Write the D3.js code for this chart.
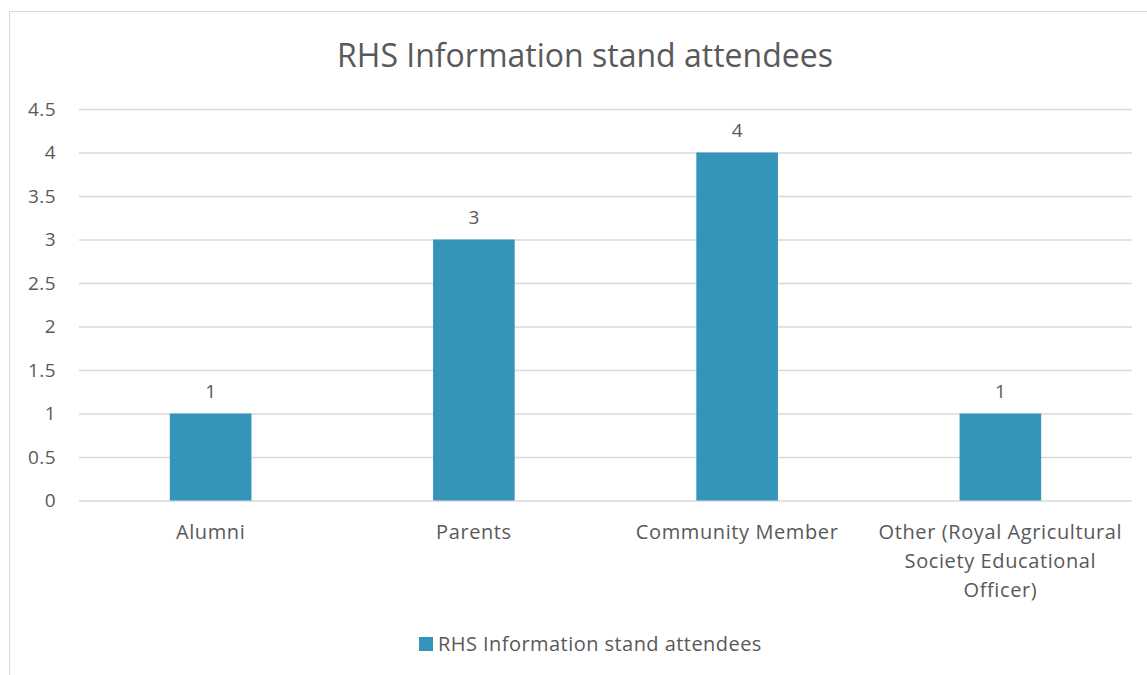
<!DOCTYPE html>
<html><head><meta charset="utf-8">
<script src="https://cdn.jsdelivr.net/npm/d3@7"></script>
<style>body{margin:0;background:#fff}svg{display:block}text{font-family:"Open Sans",sans-serif;fill:#595959}</style>
</head><body>
<svg id="c" width="1147" height="675"></svg>
<script>
const categories = ["Alumni","Parents","Community Member","Other (Royal Agricultural Society Educational Officer)"];
const categoryLines = [["Alumni"],["Parents"],["Community Member"],["Other (Royal Agricultural","Society Educational","Officer)"]];
const values = [1,3,4,1];
const yTicks = [0,0.5,1,1.5,2,2.5,3,3.5,4,4.5];
const seriesName = "RHS Information stand attendees";
const title = "RHS Information stand attendees";

const svg = d3.select("#c");
svg.append("rect").attr("x",9.5).attr("y",11.5).attr("width",1160).attr("height",700)
  .attr("fill","#fff").attr("stroke","#d9d9d9").attr("stroke-width",1);

const x = d3.scaleBand().domain(categories).range([79,1132]).paddingInner(0.69).paddingOuter(0.345);
const y = d3.scaleLinear().domain([0,4.5]).range([500.5,109]);

svg.append("text").attr("x",585).attr("y",67).attr("text-anchor","middle")
  .style("font-size","32px").text(title);

const yAxis = d3.axisLeft(y).tickValues(yTicks).tickSize(-(1132-79)).tickPadding(23)
  .tickFormat(d=>String(d));
const ga = svg.append("g").attr("transform","translate(79,0)").call(yAxis);
ga.select(".domain").remove();
ga.selectAll(".tick line").attr("stroke","#d9d9d9").attr("stroke-width",1.5);
ga.selectAll(".tick text").style("font-size","19px").style("fill","#595959").attr("font-family","Open Sans")
  .style("letter-spacing","0.4px");

svg.selectAll("rect.bar").data(values).join("rect").attr("class","bar")
  .attr("x",(d,i)=>x(categories[i])).attr("width",x.bandwidth())
  .attr("y",d=>y(d)).attr("height",d=>y(0)-y(d)).attr("fill","#3494BA");

svg.selectAll("text.lbl").data(values).join("text").attr("class","lbl")
  .attr("x",(d,i)=>x(categories[i])+x.bandwidth()/2).attr("y",d=>y(d)-16)
  .attr("text-anchor","middle").style("font-size","19px").text(d=>d);

const gx = svg.append("g");
categories.forEach((c,i)=>{
  const t = gx.append("text").attr("x",x(c)+x.bandwidth()/2).attr("y",539)
    .attr("text-anchor","middle").style("font-size","20px").style("letter-spacing","0.6px");
  categoryLines[i].forEach((l,j)=>t.append("tspan").attr("x",x(c)+x.bandwidth()/2).attr("dy",j?29:0).text(l));
});

svg.append("rect").attr("x",419).attr("y",637).attr("width",14).attr("height",14).attr("fill","#3494BA");
svg.append("text").attr("x",438).attr("y",651).style("font-size","20px").style("letter-spacing","0.45px").text(seriesName);
</script>
</body></html>
